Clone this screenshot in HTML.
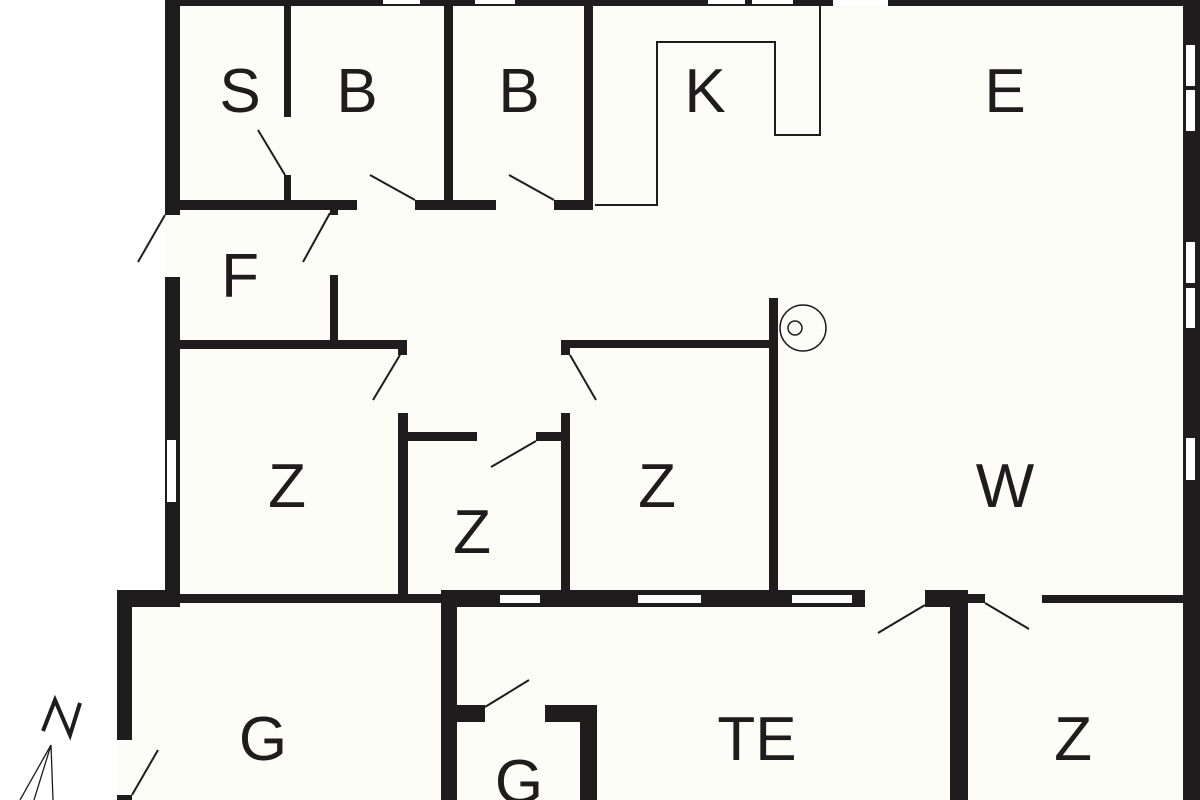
<!DOCTYPE html>
<html><head><meta charset="utf-8"><style>
html,body{margin:0;padding:0;background:#fff;}
svg{display:block;}
text{font-family:"Liberation Sans",sans-serif;font-size:62px;fill:#1e1c1c;text-anchor:middle;}
</style></head><body>
<svg width="1200" height="800" viewBox="0 0 1200 800" xmlns="http://www.w3.org/2000/svg">
<rect x="0" y="0" width="1200" height="800" fill="#fff"/>
<rect x="165" y="0" width="1035" height="800" fill="#fdfdf7"/>
<rect x="117" y="590" width="60" height="210" fill="#fdfdf7"/>
<g fill="#1e1c1c">
<rect x="165" y="0" width="1035" height="6"/>
<rect x="165" y="0" width="15" height="215"/>
<rect x="165" y="277" width="15" height="323"/>
<rect x="284" y="0" width="7" height="117"/>
<rect x="284" y="175" width="7" height="30"/>
<rect x="180" y="200" width="177" height="10"/>
<rect x="415" y="200" width="81" height="10"/>
<rect x="554" y="200" width="39" height="10"/>
<rect x="444" y="0" width="9" height="205"/>
<rect x="584" y="0" width="9" height="205"/>
<rect x="330" y="205" width="8" height="10"/>
<rect x="330" y="275" width="8" height="70"/>
<rect x="180" y="340" width="227" height="9"/>
<rect x="398" y="340" width="9" height="15"/>
<rect x="398" y="413" width="10" height="187"/>
<rect x="408" y="432" width="69" height="9"/>
<rect x="536" y="432" width="34" height="9"/>
<rect x="561" y="413" width="9" height="180"/>
<rect x="561" y="340" width="9" height="15"/>
<rect x="561" y="340" width="217" height="8"/>
<rect x="769" y="298" width="9" height="297"/>
<rect x="180" y="594" width="265" height="9"/>
<rect x="117" y="590" width="63" height="17"/>
<rect x="117" y="590" width="15" height="150"/>
<rect x="117" y="795" width="15" height="5"/>
<rect x="441" y="590" width="16" height="210"/>
<rect x="441" y="590" width="424" height="17"/>
<rect x="441" y="705" width="44" height="17"/>
<rect x="545" y="705" width="52" height="17"/>
<rect x="580" y="705" width="17" height="95"/>
<rect x="925" y="590" width="43" height="17"/>
<rect x="950" y="590" width="18" height="210"/>
<rect x="968" y="594" width="17" height="9"/>
<rect x="1042" y="595" width="141" height="8"/>
<rect x="1183" y="0" width="17" height="800"/>
</g>
<g fill="#fff">
<rect x="383" y="0" width="37" height="4"/>
<rect x="475" y="0" width="40" height="4"/>
<rect x="708" y="0" width="37" height="4"/>
<rect x="752" y="0" width="41" height="4"/>
<rect x="833" y="0" width="55" height="6"/>
<rect x="167" y="440" width="9" height="62"/>
<rect x="500" y="595" width="40" height="8"/>
<rect x="638" y="595" width="63" height="8"/>
<rect x="792" y="595" width="60" height="8"/>
<rect x="1186" y="45" width="9" height="41"/>
<rect x="1186" y="90" width="9" height="41"/>
<rect x="1186" y="242" width="9" height="41"/>
<rect x="1186" y="288" width="9" height="40"/>
<rect x="1186" y="438" width="9" height="42"/>
</g>
<polyline points="595,205 657,205 657,42 775,42 775,135 820,135 820,5" fill="none" stroke="#1e1c1c" stroke-width="2"/>
<circle cx="803" cy="328" r="23" fill="none" stroke="#1e1c1c" stroke-width="1.5"/>
<circle cx="795" cy="328" r="7" fill="none" stroke="#1e1c1c" stroke-width="1.5"/>
<g stroke="#1e1c1c" stroke-width="2">
<line x1="285" y1="175" x2="258" y2="130"/>
<line x1="415" y1="200" x2="370" y2="175"/>
<line x1="554" y1="200" x2="509" y2="175"/>
<line x1="165" y1="215" x2="138" y2="262"/>
<line x1="330" y1="213" x2="303" y2="262"/>
<line x1="400" y1="355" x2="373" y2="400"/>
<line x1="570" y1="355" x2="596" y2="400"/>
<line x1="536" y1="441" x2="491" y2="467"/>
<line x1="132" y1="795" x2="158" y2="750"/>
<line x1="485" y1="707" x2="529" y2="680"/>
<line x1="925" y1="605" x2="878" y2="633"/>
<line x1="985" y1="603" x2="1029" y2="629"/>
<line x1="51" y1="745" x2="20" y2="800" stroke-width="1.3"/>
<line x1="51" y1="745" x2="34" y2="800" stroke-width="1.3"/>
<line x1="51" y1="745" x2="53" y2="800" stroke-width="1.3"/>
</g>
<polyline points="43,731 55,700 70,735 80,703" fill="none" stroke="#1e1c1c" stroke-width="4"/>
<text x="240" y="112">S</text>
<text x="357" y="112">B</text>
<text x="519" y="112">B</text>
<text x="705" y="112">K</text>
<text x="1005" y="112">E</text>
<text x="240" y="297">F</text>
<text x="287" y="507">Z</text>
<text x="472" y="553">Z</text>
<text x="657" y="507">Z</text>
<text x="1005" y="507">W</text>
<text x="263" y="760">G</text>
<text x="757" y="760">TE</text>
<text x="1073" y="760">Z</text>
<text x="519" y="803">G</text>
</svg>
</body></html>
